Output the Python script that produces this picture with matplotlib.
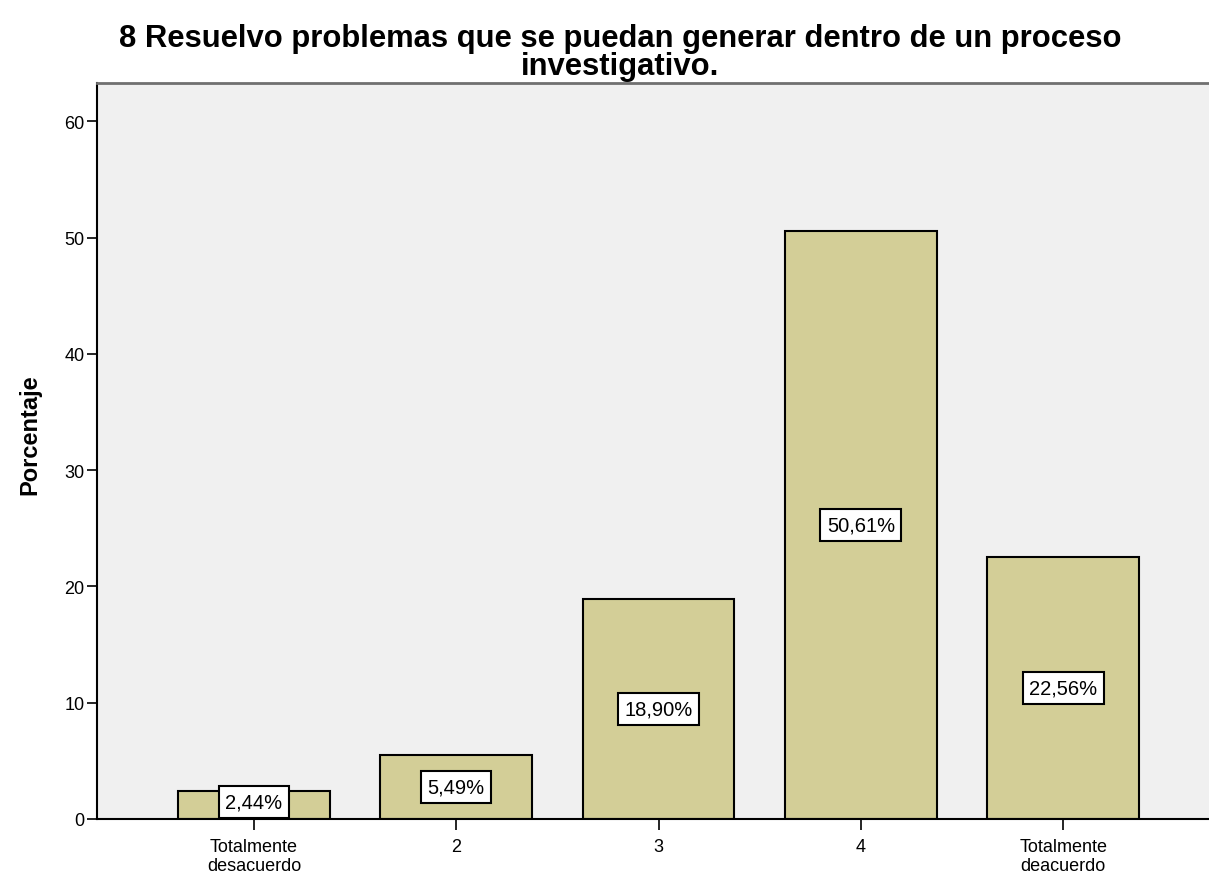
import numpy as np
import matplotlib.pyplot as plt

plt.rcParams['font.family'] = ['Liberation Sans', 'DejaVu Sans']

categories = ['Totalmente\ndesacuerdo', '2', '3', '4', 'Totalmente\ndeacuerdo']
percentages = [2.44, 5.49, 18.90, 50.61, 22.56]
labels = ['2,44%', '5,49%', '18,90%', '50,61%', '22,56%']

fig = plt.figure(figsize=(12.09, 8.78), dpi=100)
ax = fig.add_axes([97/1209, 58/878, 1 - 97/1209, (820-84)/878])
ax.set_facecolor('#F0F0F0')

x = np.arange(len(categories))
ax.bar(x, percentages, width=0.75, color='#D3CE97', edgecolor='black', linewidth=1.5, zorder=2)

for xi, v, lab in zip(x, percentages, labels):
    ypos = max(v / 2, 1.5)
    ax.text(xi, ypos, lab, ha='center', va='center', fontsize=14.5, zorder=3,
            bbox=dict(boxstyle='square,pad=0.32', facecolor='white', edgecolor='black', linewidth=1.5))

ax.set_xlim(-0.776, 4.721)
ax.set_ylim(0, 63.3)
ax.set_yticks([0, 10, 20, 30, 40, 50, 60])
ax.set_xticks(x)
ax.set_xticklabels(categories, fontsize=13, linespacing=1.15)
ax.tick_params(axis='y', labelsize=13, length=7, width=1.2, pad=2)
ax.tick_params(axis='x', length=8, width=1.2, pad=6)
ax.set_ylabel('Porcentaje', fontsize=17, fontweight='bold')
ax.yaxis.set_label_coords(-0.05, 0.523)

ax.spines['left'].set_linewidth(1.5)
ax.spines['bottom'].set_linewidth(1.5)
ax.spines['top'].set_color('#707070')
ax.spines['top'].set_linewidth(2)
ax.spines['right'].set_visible(False)

fig.text(620/1209, 1 - 53/878, '8 Resuelvo problemas que se puedan generar dentro de un proceso\ninvestigativo.',
         ha='center', va='center', fontsize=22.3, fontweight='bold', linespacing=0.93)

fig.savefig('out.png', dpi=100)
